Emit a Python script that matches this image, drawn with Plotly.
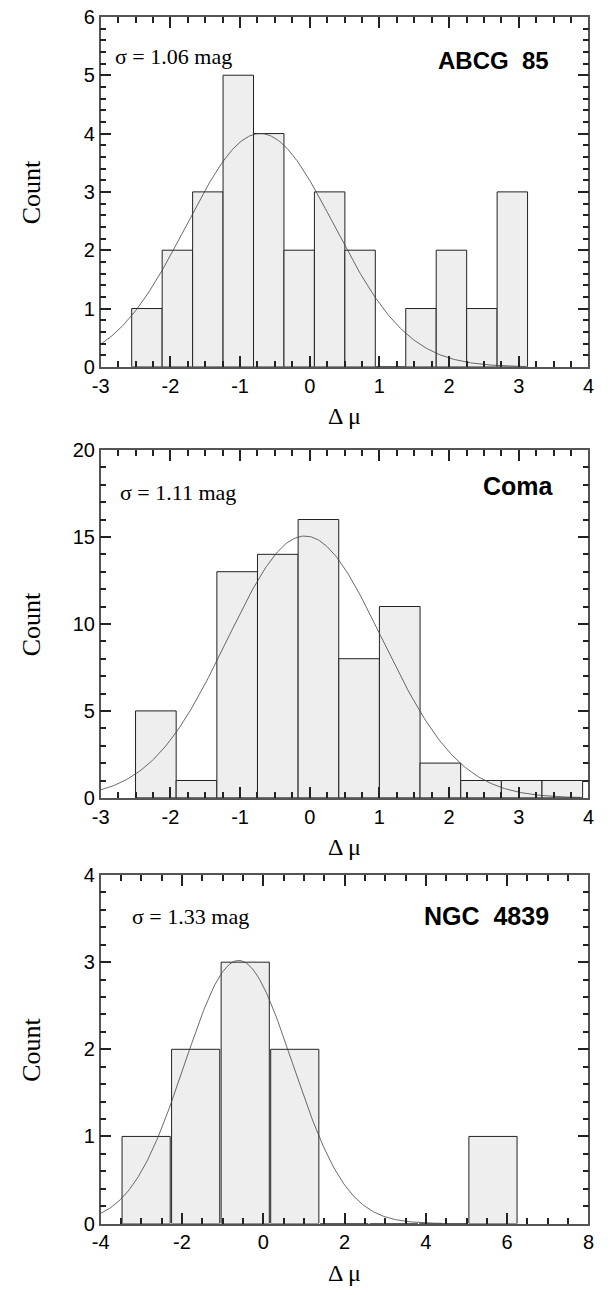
import numpy as np
import plotly.graph_objects as go

# ---------------- data ----------------
# Panel 1: ABCG 85
abcg_left = [-2.555, -2.118, -1.681, -1.244, -0.807, -0.370, 0.067, 0.504, 0.941, 1.378, 1.815, 2.252, 2.689]
abcg_count = [1, 2, 3, 5, 4, 2, 3, 2, 0, 1, 2, 1, 3]
abcg_width = 0.437
abcg_fit = dict(amp=4.0, mean=-0.71, sigma=1.06, xmin=-3.0, xmax=3.1)

# Panel 2: Coma
coma_left = [-2.5, -1.917, -1.333, -0.75, -0.167, 0.417, 1.0, 1.583, 2.167, 2.75, 3.333]
coma_count = [5, 1, 13, 14, 16, 8, 11, 2, 1, 1, 1]
coma_width = 0.583
coma_fit = dict(amp=15.05, mean=-0.07, sigma=1.11, xmin=-3.0, xmax=3.9)

# Panel 3: NGC 4839
ngc_left = [-3.475, -2.256, -1.037, 0.182, 1.401, 2.62, 3.839, 5.058]
ngc_count = [1, 2, 3, 2, 0, 0, 0, 1]
ngc_width = 1.185
ngc_fit = dict(amp=3.02, mean=-0.605, sigma=1.33, xmin=-4.0, xmax=4.4)

names = ["ABCG  85", "Coma", "NGC  4839"]
sigma_labels = ["σ = 1.06 mag", "σ = 1.11 mag", "σ = 1.33 mag"]
x_ranges = [[-3, 4], [-3, 4], [-4, 8]]
y_ranges = [[0, 6], [0, 20], [0, 4]]
x_tickvals = [[-3, -2, -1, 0, 1, 2, 3, 4], [-3, -2, -1, 0, 1, 2, 3, 4], [-4, -2, 0, 2, 4, 6, 8]]
x_ticktext = [["-3", "-2", "-1", "0", "1", "2", "3", "4"], ["-3", "-2", "-1", "0", "1", "2", "3", "4"],
              ["-4", "-2", "0", "2", "4", "6", "8"]]
x_minor = [0.25, 0.25, 0.5]
y_dticks = [1, 5, 1]
y_minor = [0.2, 1, 0.2]

# ---------------- layout geometry ----------------
W, H = 613, 1295
x_dom = [94 / W, 594 / W]
panels_px = [(6, 362), (446.5, 800.5), (879, 1233.5)]  # top, bottom in px
y_doms = [[1 - b / H, 1 - t / H] for t, b in panels_px]

fig = go.Figure()

lefts = [abcg_left, coma_left, ngc_left]
counts = [abcg_count, coma_count, ngc_count]
widths = [abcg_width, coma_width, ngc_width]
fits = [abcg_fit, coma_fit, ngc_fit]

sans = "Liberation Sans, Arial, sans-serif"
serif = "Liberation Serif, Times New Roman, serif"

for i in range(3):
    xa = "x" if i == 0 else f"x{i+1}"
    ya = "y" if i == 0 else f"y{i+1}"
    fig.add_trace(go.Bar(
        x=lefts[i], y=counts[i], width=[widths[i]] * len(lefts[i]), offset=0,
        marker=dict(color="#eeeeee", line=dict(color="#222222", width=1)),
        xaxis=xa, yaxis=ya, showlegend=False,
    ))
    f = fits[i]
    xs = np.linspace(f["xmin"], f["xmax"], 300)
    ys = f["amp"] * np.exp(-0.5 * ((xs - f["mean"]) / f["sigma"]) ** 2)
    fig.add_trace(go.Scatter(
        x=xs, y=ys, mode="lines", line=dict(color="#444444", width=0.8),
        xaxis=xa, yaxis=ya, showlegend=False,
    ))

tick_col = "#222222"

layout = dict(
    width=W, height=H, margin=dict(l=0, r=0, t=0, b=0),
    plot_bgcolor="white", showlegend=False,
)

annotations = []
for i in range(3):
    sx = "" if i == 0 else str(i + 1)
    layout["xaxis" + sx] = dict(
        showgrid=False, zeroline=False, showline=True, linecolor="#555555", linewidth=1.5,
        mirror="ticks", ticks="inside", ticklen=11, tickwidth=1.5, tickcolor=tick_col,
        tickfont=dict(family=sans, size=20, color="black"),
        domain=x_dom, range=x_ranges[i], tickmode="array",
        tickvals=x_tickvals[i], ticktext=x_ticktext[i],
        anchor="y" + sx,
        minor=dict(ticks="inside", ticklen=6, tickcolor=tick_col, dtick=x_minor[i]),
    )
    layout["yaxis" + sx] = dict(
        showgrid=False, zeroline=False, showline=True, linecolor="#555555", linewidth=1.5,
        mirror="ticks", ticks="inside", ticklen=11, tickwidth=1.5, tickcolor=tick_col,
        tickfont=dict(family=sans, size=20, color="black"),
        domain=y_doms[i], range=y_ranges[i], dtick=y_dticks[i],
        anchor="x" + sx,
        minor=dict(ticks="inside", ticklen=6, tickcolor=tick_col, dtick=y_minor[i]),
    )
    top, bot = panels_px[i]
    annotations.append(dict(
        text="Count", xref="paper", yref="paper", x=23 / W, y=1 - (top + bot) / 2 / H,
        textangle=-90, showarrow=False, xanchor="center", yanchor="middle",
        font=dict(family=serif, size=26, color="black"),
    ))
    annotations.append(dict(
        text="Δ μ", xref="paper", yref="paper", x=344 / W, y=1 - (bot + 50) / H,
        showarrow=False, xanchor="center", yanchor="middle",
        font=dict(family=serif, size=24, color="black"),
    ))
    sig_pos = [(107, 46), (112, 490), (124, 921)][i]
    annotations.append(dict(
        text=sigma_labels[i], xref="paper", yref="paper", x=sig_pos[0] / W, y=1 - sig_pos[1] / H,
        showarrow=False, xanchor="left", yanchor="middle",
        font=dict(family=serif, size=22, color="black"),
    ))
    nm_pos = [(556, 50), (561, 483), (556, 921)][i]
    nm_size = [24, 25, 25][i]
    annotations.append(dict(
        text="<b>" + names[i] + "</b>", xref="paper", yref="paper", x=nm_pos[0] / W, y=1 - nm_pos[1] / H,
        showarrow=False, xanchor="right", yanchor="middle",
        font=dict(family=sans, size=nm_size, color="black"),
    ))

layout["annotations"] = annotations
fig.update_layout(**layout)
fig.write_html("out.html")
